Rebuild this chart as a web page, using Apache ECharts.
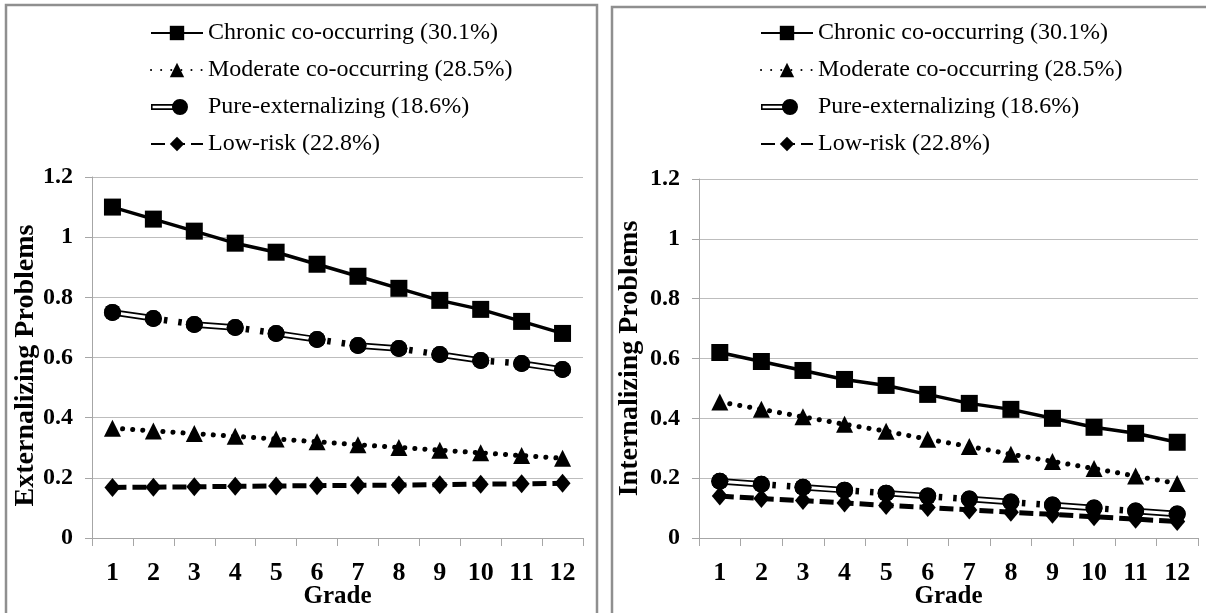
<!DOCTYPE html>
<html>
<head>
<meta charset="utf-8">
<script src="https://cdn.jsdelivr.net/npm/echarts@6/dist/echarts.min.js"></script>
<style>
html,body{margin:0;padding:0;background:#fff;}
#chart{width:1206px;height:613px;}
</style>
</head>
<body>
<div id="chart"></div>
<script>
const grades = ['1','2','3','4','5','6','7','8','9','10','11','12'];
const seriesNames = ['Chronic co-occurring (30.1%)','Moderate co-occurring (28.5%)','Pure-externalizing (18.6%)','Low-risk (22.8%)'];
const extChronic  = [1.10,1.06,1.02,0.98,0.95,0.91,0.87,0.83,0.79,0.76,0.72,0.68];
const extModerate = [0.365,0.356,0.347,0.338,0.329,0.320,0.310,0.301,0.292,0.283,0.274,0.265];
const extPure     = [0.75,0.73,0.71,0.70,0.68,0.66,0.64,0.63,0.61,0.59,0.58,0.56];
const extLow      = [0.168,0.169,0.170,0.172,0.173,0.174,0.175,0.176,0.177,0.179,0.180,0.182];
const intChronic  = [0.62,0.59,0.56,0.53,0.51,0.48,0.45,0.43,0.40,0.37,0.35,0.32];
const intModerate = [0.455,0.430,0.405,0.380,0.357,0.330,0.306,0.280,0.256,0.232,0.207,0.182];
const intPure     = [0.19,0.18,0.17,0.16,0.15,0.14,0.13,0.12,0.11,0.10,0.09,0.08];
const intLow      = [0.140,0.132,0.125,0.117,0.109,0.102,0.094,0.086,0.079,0.071,0.063,0.055];

const FONT = '"Liberation Serif", "Times New Roman", serif';
const AXC = '#a6a6a6';
const pureIcon = 'path://M0 0 L0 0 M52 18 L52 18 M0 6 L24 6 L24 12 L0 12 Z M1.6 7.8 L1.6 10.2 L24 10.2 L24 7.8 Z M37 9 A8 8 0 1 1 21 9 A8 8 0 1 1 37 9 Z';

function legendFor(left){
  return {
    orient:'vertical', left:left, top:21, padding:0, itemWidth:52, itemHeight:18, itemGap:13,
    textStyle:{fontFamily:FONT, fontSize:24, color:'#000'},
    data:[seriesNames[0], seriesNames[1], {name:seriesNames[2], icon:pureIcon, itemStyle:{color:'#000', borderWidth:0}}, seriesNames[3]]
  };
}
function xAx(idx){
  return {
    type:'category', gridIndex:idx, data:grades, boundaryGap:true,
    axisLine:{lineStyle:{color:AXC, width:1}},
    axisTick:{show:true, length:8, lineStyle:{color:AXC}},
    axisLabel:{color:'#000', fontFamily:FONT, fontWeight:'bold', fontSize:26, margin:22},
    splitLine:{show:false},
    name:'Grade', nameLocation:'middle', nameGap:46, nameMoveOverlap:false,
    nameTextStyle:{color:'#000', fontFamily:FONT, fontWeight:'bold', fontSize:25}
  };
}
function yAx(idx, name, gap, pad){
  return {
    type:'value', gridIndex:idx, min:0, max:1.2, interval:0.2,
    axisLine:{show:true, lineStyle:{color:AXC, width:1}},
    axisTick:{show:true, length:7, lineStyle:{color:AXC}},
    splitLine:{show:true, lineStyle:{color:'#bdbdbd', width:1}},
    axisLabel:{color:'#000', fontFamily:FONT, fontWeight:'bold', fontSize:24, margin:19},
    name:name, nameLocation:'middle', nameGap:gap, nameMoveOverlap:false,
    nameTextStyle:{color:'#000', fontFamily:FONT, fontWeight:'bold', fontSize:28, padding:pad}
  };
}
function panelSeries(idx, chronic, moderate, pure, low, period, seg){
  const base = {type:'line', xAxisIndex:idx, yAxisIndex:idx, silent:true, itemStyle:{color:'#000', borderWidth:0}};
  return [
    Object.assign({}, base, {name:seriesNames[0], data:chronic, symbol:'rect', symbolSize:17,
      lineStyle:{color:'#000', width:3.5, type:'solid'}}),
    Object.assign({}, base, {name:seriesNames[1], data:moderate, symbol:'triangle', symbolSize:17,
      lineStyle:{color:'#000', width:5, type:[0.1, 10], cap:'round'}}),
    Object.assign({}, base, {name:seriesNames[2], data:pure, symbol:'circle', symbolSize:17, z:2,
      lineStyle:{color:'#000', width:6.5, type:[seg, 11, 3.5, 11, 3.5, period - seg - 29], cap:'butt'}}),
    Object.assign({}, base, {name:'pe-inner-'+idx, data:pure, symbol:'none', z:2,
      lineStyle:{color:'#fff', width:3, type:[seg, period - seg], cap:'butt'}}),
    Object.assign({}, base, {name:'pe-top-'+idx, data:pure, symbol:'circle', symbolSize:17, z:3,
      lineStyle:{width:0, opacity:0}}),
    Object.assign({}, base, {name:seriesNames[3], data:low, symbol:'diamond', symbolSize:[16,19],
      lineStyle:{color:'#000', width:5, type:[14, 6], cap:'butt'}})
  ];
}

const chart = echarts.init(document.getElementById('chart'), null, {renderer:'canvas'});
chart.setOption({
  animation:false,
  backgroundColor:'#fff',
  graphic:[
    {type:'rect', shape:{x:6, y:5, width:591, height:660}, style:{fill:'none', stroke:'#8f8f8f', lineWidth:2.5}, silent:true},
    {type:'rect', shape:{x:612, y:7, width:660, height:660}, style:{fill:'none', stroke:'#8f8f8f', lineWidth:2.5}, silent:true}
  ],
  legend:[legendFor(150), legendFor(760)],
  grid:[
    {left:92, right:623, top:177, bottom:75, containLabel:false, outerBoundsMode:'none'},
    {left:699, right:8, top:179, bottom:75, containLabel:false, outerBoundsMode:'none'}
  ],
  xAxis:[xAx(0), xAx(1)],
  yAxis:[yAx(0,'Externalizing Problems',52,[0,16,0,0]), yAx(1,'Internalizing Problems',55,[0,0,0,0])],
  series:[].concat(
    panelSeries(0, extChronic, extModerate, extPure, extLow, 82.4, 41),
    panelSeries(1, intChronic, intModerate, intPure, intLow, 83.4, 41.7)
  )
});
</script>
</body>
</html>
